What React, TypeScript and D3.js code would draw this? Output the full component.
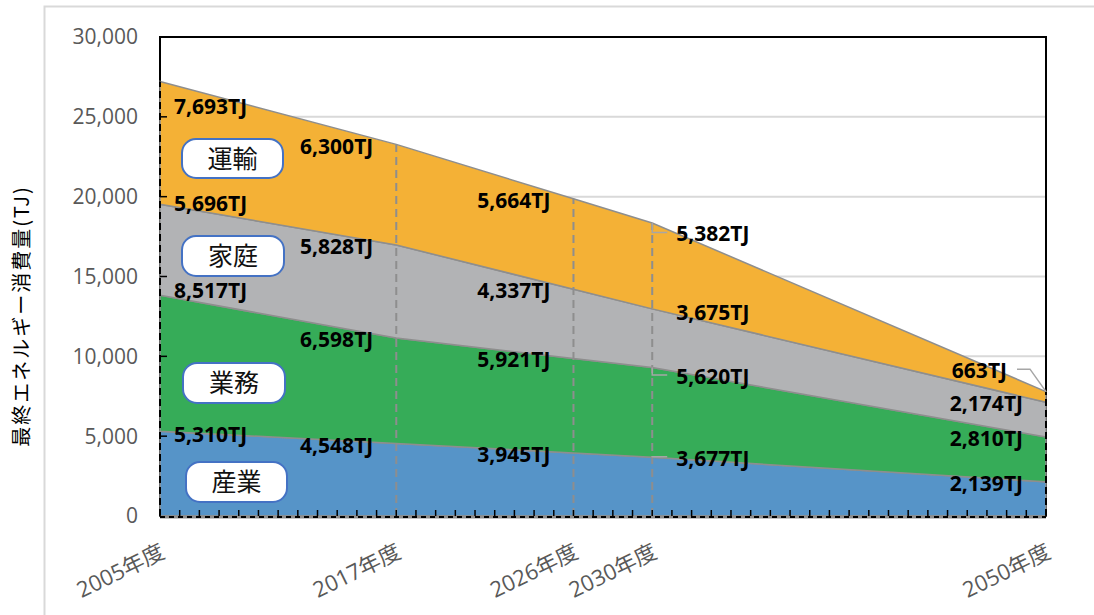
import React from 'react';
import * as d3 from 'd3';

// ---- data ----
const years = [2005, 2017, 2026, 2030, 2050];
const yearTickLabels = ['2005年度', '2017年度', '2026年度', '2030年度', '2050年度'];
const seriesKeys = ['産業', '業務', '家庭', '運輸'];
const industry = [5310, 4548, 3945, 3677, 2139];
const business = [8517, 6598, 5921, 5620, 2810];
const household = [5696, 5828, 4337, 3675, 2174];
const transport = [7693, 6300, 5664, 5382, 663];
const yTickValues = [0, 5000, 10000, 15000, 20000, 25000, 30000];
const yTitle = '最終エネルギー消費量(TJ)';

// ---- style / layout ----
const W = 1094;
const H = 615;
const colors = ['#5694C8', '#36AC58', '#B2B3B5', '#F4B136'];
const labelAnchor = ['start', 'end', 'end', 'start', 'end'];
const labelDx = [14, -23, -23, 24, -23];
const labelDy = [
  [3, -5, -1, 25],
  [2, 2, 2, 2],
  [1.5, 1.5, 1.5, 1.5],
  [1, 9, 4, 11],
  [1.5, 1.3, 1, -21],
];
const labelDxOverride: Record<string, number> = { '4-3': -39 };
const leaderKeys = ['3-0', '3-1', '3-3', '4-3'];
const boxes = [
  { key: '運輸', x: 182, y: 139, w: 101, h: 39 },
  { key: '家庭', x: 182, y: 236, w: 102, h: 40 },
  { key: '業務', x: 183, y: 363, w: 102, h: 40 },
  { key: '産業', x: 186, y: 462, w: 101, h: 40 },
];
const numFont = "'Open Sans', 'Noto Sans', sans-serif";
const jpFont = "'Noto Sans CJK JP', 'Noto Sans', sans-serif";

export default function App() {
  const x = d3.scaleLinear().domain([2005, 2050]).range([160, 1046]);
  const y = d3.scaleLinear().domain([0, 30000]).range([516, 37]);

  const table = years.map((yr, i) => ({
    year: yr,
    産業: industry[i],
    業務: business[i],
    家庭: household[i],
    運輸: transport[i],
  }));
  const stacked = d3.stack<any>().keys(seriesKeys)(table);
  const area = d3
    .area<any>()
    .x((d) => x(d.data.year))
    .y0((d) => y(d[0]))
    .y1((d) => y(d[1]));

  const totals = table.map((_, i) => stacked[stacked.length - 1][i][1]);
  const fmt = d3.format(',');
  const yearTicks = d3.range(2005, 2051);
  const [x0, x1] = x.range();
  const [yb, yt] = y.range();

  const labels: React.ReactNode[] = [];
  const leaders: React.ReactNode[] = [];
  years.forEach((yr, i) => {
    stacked.forEach((s, k) => {
      const key = `${i}-${k}`;
      const bx = x(yr);
      const by = y(s[i][1]);
      const dx = labelDxOverride[key] ?? labelDx[i];
      const ty = by + labelDy[i][k];
      const val = s[i][1] - s[i][0];
      labels.push(
        <text
          key={'l' + key}
          x={bx + dx}
          y={ty}
          dy="0.35em"
          textAnchor={labelAnchor[i] as any}
          fontFamily={numFont}
          fontWeight={700}
          fontSize={21}
          fill="#000"
        >
          {fmt(val)}TJ
        </text>
      );
      if (leaderKeys.includes(key)) {
        const ly = ty - 1.5;
        const d =
          labelAnchor[i] === 'start'
            ? `M${bx},${by}L${bx},${ly}L${bx + 15},${ly}`
            : `M${bx},${by}L${bx - 16},${ly}L${bx - 29},${ly}`;
        leaders.push(
          <path key={'ld' + key} d={d} fill="none" stroke="#A6A6A6" strokeWidth={1.5} />
        );
      }
    });
  });

  return (
    <svg
      width={W}
      height={H}
      style={{ position: 'absolute', left: 0, top: 0, background: '#fff' }}
    >
      {/* outer frame */}
      <rect x={44.5} y={6.5} width={1200} height={700} fill="#fff" stroke="#D9D9D9" strokeWidth={2} />

      {/* gridlines */}
      {yTickValues.slice(1, -1).map((v) => (
        <line key={'g' + v} x1={x0} x2={x1} y1={y(v)} y2={y(v)} stroke="#D9D9D9" strokeWidth={2} />
      ))}

      {/* plot border */}
      <rect x={x0} y={yt} width={x1 - x0} height={yb - yt} fill="none" stroke="#000" strokeWidth={2} />

      {/* areas */}
      {stacked.map((s, k) => (
        <path key={'a' + k} d={area(s) as string} fill={colors[k]} stroke="#8E8E8E" strokeWidth={1.5} />
      ))}

      {/* drop lines */}
      {years.slice(1, -1).map((yr, i) => (
        <line
          key={'dl' + yr}
          x1={x(yr)}
          x2={x(yr)}
          y1={yb}
          y2={y(totals[i + 1])}
          stroke="#8E8E8E"
          strokeWidth={2}
          strokeDasharray="8,5"
        />
      ))}

      {/* axes */}
      <line x1={x0} x2={x0} y1={yb} y2={y(totals[0])} stroke="#000" strokeWidth={2} strokeDasharray="7,4" />
      <line
        x1={x1}
        x2={x1}
        y1={yb}
        y2={y(totals[totals.length - 1])}
        stroke="#000"
        strokeWidth={2}
        strokeDasharray="7,4"
      />
      <line x1={x0} x2={x1} y1={yb + 1} y2={yb + 1} stroke="#8E8E8E" strokeWidth={3} />
      <line x1={x0} x2={x1} y1={yb + 1} y2={yb + 1} stroke="#000" strokeWidth={2} strokeDasharray="5,4" />
      {yearTicks.map((yr) => (
        <line key={'xt' + yr} x1={x(yr)} x2={x(yr)} y1={yb} y2={yb - 6} stroke="#000" strokeWidth={1.5} />
      ))}
      {yTickValues.slice(1, -1).map((v) => (
        <line key={'yt' + v} x1={x0} x2={x0 + 7} y1={y(v)} y2={y(v)} stroke="#000" strokeWidth={1.5} />
      ))}

      {/* leaders & labels */}
      {leaders}
      {labels}

      {/* category boxes */}
      {boxes.map((b) => (
        <g key={'b' + b.key}>
          <rect x={b.x} y={b.y} width={b.w} height={b.h} rx={14} ry={14} fill="#fff" stroke="#4472C4" strokeWidth={2} />
          <text
            x={b.x + b.w / 2}
            y={b.y + b.h / 2}
            dy="0.36em"
            textAnchor="middle"
            fontFamily={jpFont}
            fontSize={25}
            fill="#111"
          >
            {b.key}
          </text>
        </g>
      ))}

      {/* y tick labels */}
      {yTickValues.map((v) => (
        <text
          key={'yl' + v}
          x={138}
          y={y(v)}
          dy="0.35em"
          textAnchor="end"
          fontFamily={numFont}
          fontSize={21}
          fill="#595959"
        >
          {fmt(v)}
        </text>
      ))}

      {/* x tick labels */}
      {years.map((yr, i) => (
        <text
          key={'xl' + yr}
          transform={`translate(${x(yr) + 3},${550}) rotate(-26)`}
          dy="0.35em"
          textAnchor="end"
          fontFamily={`'Open Sans', 'Noto Sans CJK JP', sans-serif`}
          fontSize={22}
          fill="#595959"
        >
          {yearTickLabels[i]}
        </text>
      ))}

      {/* y title */}
      <text
        transform={`translate(22,316) rotate(-90)`}
        dy="0.35em"
        textAnchor="middle"
        fontFamily={jpFont}
        fontSize={20}
        letterSpacing={2}
        fill="#000"
      >
        {yTitle}
      </text>
    </svg>
  );
}
